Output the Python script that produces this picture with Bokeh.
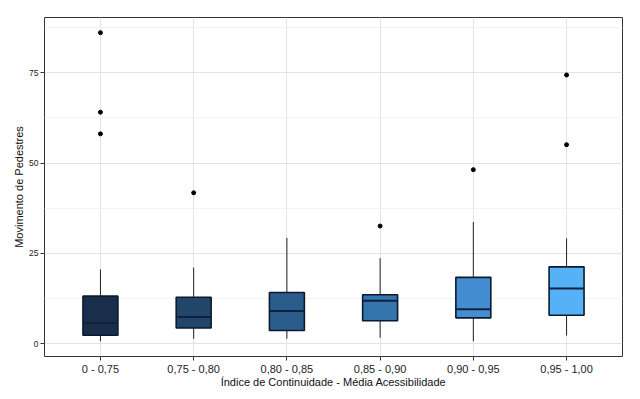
from bokeh.plotting import figure
from bokeh.models import FixedTicker, Range1d
from bokeh.embed import file_html
from bokeh.resources import INLINE

categories = ["0 - 0,75", "0,75 - 0,80", "0,80 - 0,85", "0,85 - 0,90", "0,90 - 0,95", "0,95 - 1,00"]
q1 = [2.4, 4.4, 3.7, 6.4, 7.2, 7.9]
median = [5.8, 7.4, 9.1, 11.9, 9.6, 15.3]
q3 = [13.2, 12.9, 14.2, 13.6, 18.4, 21.3]
lower = [0.7, 1.4, 1.4, 1.7, 0.7, 2.3]
upper = [20.6, 21.1, 29.3, 23.7, 33.7, 29.2]
outlier_group = [0, 0, 0, 1, 3, 4, 5, 5]
outlier_value = [86.1, 64.1, 58.1, 41.8, 32.6, 48.2, 74.4, 55.1]
fills = ["#182e4b", "#214669", "#2b5d8c", "#3674ae", "#448dd0", "#56b1f7"]
y_ticks = [0, 25, 50, 75]

FONT = "Liberation Sans"
BW = 0.375
idx = list(range(len(categories)))

p = figure(width=640, height=399, output_backend="svg", toolbar_location=None,
           x_range=Range1d(-0.6, len(categories) - 0.4), y_range=Range1d(-3.5, 90.3),
           min_border_left=44, min_border_top=17, min_border_right=18, min_border_bottom=43)
p.background_fill_color = "white"
p.outline_line_color = "#333333"
p.outline_line_width = 1

# grids
p.xaxis.ticker = FixedTicker(ticks=idx)
p.xaxis.major_label_overrides = {i: c for i, c in enumerate(categories)}
p.yaxis.ticker = FixedTicker(ticks=y_ticks, minor_ticks=[12.5, 37.5, 62.5, 87.5])
p.xgrid.grid_line_color = "#e3e3e3"
p.ygrid.grid_line_color = "#e3e3e3"
p.ygrid.minor_grid_line_color = "#f3f3f3"

for ax in (p.xaxis, p.yaxis):
    ax.axis_line_color = None
    ax.major_tick_line_color = "#333333"
    ax.major_tick_out = 4
    ax.major_tick_in = 0
    ax.minor_tick_line_color = None
    ax.major_label_text_font = FONT
    ax.major_label_text_color = "#222222"
    ax.axis_label_text_font = FONT
    ax.axis_label_text_font_style = "normal"
    ax.axis_label_text_color = "#111111"
    ax.axis_label_text_font_size = "11px"
    ax.major_label_standoff = 2
    ax.axis_label_standoff = 1

p.xaxis.major_label_text_font_size = "11px"
p.yaxis.major_label_text_font_size = "8.5px"
p.xaxis.axis_label = "Índice de Continuidade - Média Acessibilidade"
p.yaxis.axis_label = "Movimento de Pedestres"
p.xaxis.axis_label_standoff = -2

# whiskers
p.segment(x0=idx, x1=idx, y0=q3, y1=upper, line_color="#222222", line_width=1)
p.segment(x0=idx, x1=idx, y0=lower, y1=q1, line_color="#222222", line_width=1)
# boxes
p.vbar(x=idx, width=BW, bottom=q1, top=q3, fill_color=fills, line_color="#0c1a2e", line_width=1.6)
# medians
p.segment(x0=[i - BW / 2 for i in idx], x1=[i + BW / 2 for i in idx], y0=median, y1=median,
          line_color="#0e2240", line_width=2)
# outliers
p.scatter(x=outlier_group, y=outlier_value, size=4, fill_color="black", line_color="black")

open("out.html", "w").write(file_html(p, INLINE))
